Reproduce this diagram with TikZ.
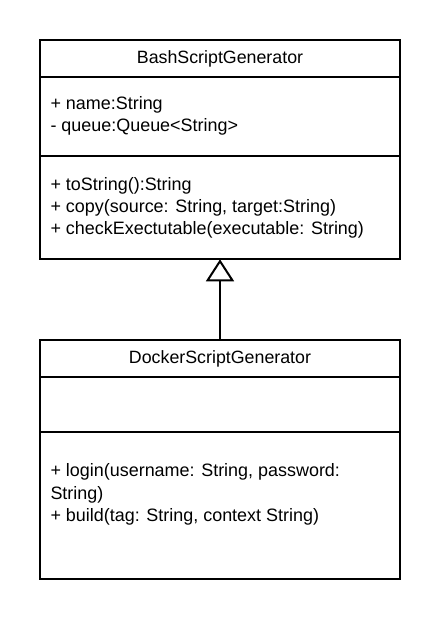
\documentclass[tikz,border=0pt]{standalone}
\usepackage{fontspec}
\setmainfont{Liberation Sans}
\usetikzlibrary{arrows.meta}
\begin{document}
\begin{tikzpicture}[x=1pt,y=-1pt,
  umlbox/.style={draw=black, line width=2pt, fill=white, rectangle, inner sep=0pt, outer sep=0pt},
  umltxt/.style={anchor=base west, inner sep=0pt, outer sep=0pt, font=\fontsize{17.95}{22}\selectfont},
  umlhead/.style={anchor=base, inner sep=0pt, outer sep=0pt, font=\fontsize{17.8}{22}\selectfont},
  divider/.style={draw=black, line width=2pt},
  inherit/.style={draw=black, line width=2pt, -{Triangle[open, length=22pt, width=28pt, line width=2pt]}}
]
\useasboundingbox[fill=white] (0,0) rectangle (440,620);
% BashScriptGenerator
\node[umlbox, minimum width=360pt, minimum height=219.3pt] (bash) at (220,149.65) {};
\draw[divider] (40,76.7) -- (400,76.7);
\draw[divider] (40,156) -- (400,156);
\node[umlhead] (bashname) at (220,63.5) {BashScriptGenerator};
\node[umltxt] (ba1) at (50.5,110) {+ name:String};
\node[umltxt] (ba2) at (50.5,132) {- queue:Queue<String>};
\node[umltxt] (bm1) at (50.5,190.5) {+ toString():String};
\node[umltxt] (bm2) at (50.5,212.5) {+ copy(source: String, target:String)};
\node[umltxt] (bm3) at (50.5,234.5) {+ checkExectutable(executable: String)};
% DockerScriptGenerator
\node[umlbox, minimum width=360pt, minimum height=239.3pt] (docker) at (220,459.65) {};
\draw[divider] (40,377.3) -- (400,377.3);
\draw[divider] (40,431.7) -- (400,431.7);
\node[umlhead] (dockername) at (220,363.5) {DockerScriptGenerator};
\node[umltxt] (dm1) at (50.5,476.5) {+ login(username: String, password:};
\node[umltxt] (dm2) at (50.5,499) {String)};
\node[umltxt] (dm3) at (50.5,521.5) {+ build(tag: String, context String)};
% inheritance
\draw[inherit] (docker.north) -- (bash.south);
\end{tikzpicture}
\end{document}
